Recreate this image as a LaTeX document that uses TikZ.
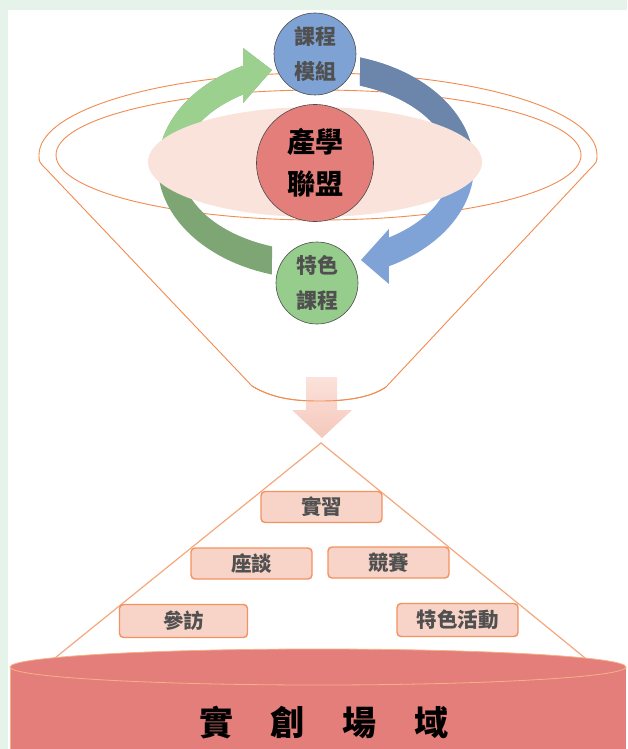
\documentclass[tikz,border=0pt]{standalone}
\usepackage{fontspec}
\newfontfamily\cjk{Noto Sans CJK TC}
\usetikzlibrary{calc}
\definecolor{bggreen}{RGB}{230,243,234}
\definecolor{funnelorange}{RGB}{240,140,80}
\definecolor{pinkell}{RGB}{249,227,219}
\definecolor{redc}{RGB}{228,126,122}
\definecolor{bluec}{RGB}{126,162,212}
\definecolor{greenc}{RGB}{151,205,140}
\definecolor{boxfill}{RGB}{248,211,199}
\definecolor{boxdraw}{RGB}{242,146,96}
\definecolor{triline}{RGB}{245,168,125}
\definecolor{cyledge}{RGB}{246,178,135}
\definecolor{txtgray}{RGB}{80,80,80}
\definecolor{greenlight}{RGB}{155,208,143}
\definecolor{greendark}{RGB}{125,166,116}
\definecolor{bluedark}{RGB}{108,134,171}
\definecolor{bluelight}{RGB}{127,163,214}
\definecolor{arrowtop}{RGB}{251,226,219}
\definecolor{arrowbot}{RGB}{245,200,187}
\newcommand\greenarrowpath{(271.9,274.5) arc[start angle=106.2, end angle=242.5, x radius=158, y radius=113] -- (243.1,48) -- (272,70) -- (243.1,103) -- (243.1,94.5) arc[start angle=237.3, end angle=109, x radius=135, y radius=85] -- cycle}
\newcommand\bluearrowpath{(360.1,57.5) arc[start angle=-73.8, end angle=62.5, x radius=158, y radius=113] -- (388.9,284) -- (361,260) -- (388.9,229) -- (388.9,237.5) arc[start angle=57.3, end angle=-71, x radius=135, y radius=85] -- cycle}
\tikzset{
  ball/.style={circle, draw=black!70, line width=0.6pt, inner sep=0pt},
  balltext/.style={align=center, text=txtgray, font=\cjk\bfseries\fontsize{21}{35}\selectfont},
  ybox/.style={draw=boxdraw, line width=1.4pt, fill=boxfill, rounded corners=4pt, minimum width=121pt, minimum height=31pt, inner sep=0pt, text=txtgray, font=\cjk\bfseries\fontsize{20.5}{22}\selectfont},
}
\begin{document}
\begin{tikzpicture}[x=1pt,y=-1pt]
\useasboundingbox (0,0) rectangle (627,749);
\fill[bggreen] (0,0) rectangle (627,749);
\fill[white] (8,10) rectangle (627,749);
% funnel
\draw[funnelorange, line width=0.9pt] (39,155) arc[start angle=180, end angle=360, x radius=279, y radius=82]
  .. controls (597,162) .. (589,170) -- (386,387) .. controls (370,398) and (345,401) .. (320,401)
  .. controls (300,401) and (275,400) .. (252,386) -- (47,170) .. controls (39,162) .. (39,155) -- cycle;
\draw[funnelorange, line width=0.9pt] (318.5,155) ellipse[x radius=262.5, y radius=65];
% circular arrows
\fill[greendark] \greenarrowpath;
\begin{scope}
  \clip (0,0) rectangle (627,166);
  \fill[greenlight] \greenarrowpath;
\end{scope}
\fill[bluelight] \bluearrowpath;
\begin{scope}
  \clip (0,0) rectangle (627,166);
  \fill[bluedark] \bluearrowpath;
\end{scope}
% pink ellipse
\fill[pinkell] (315,162) ellipse[x radius=167, y radius=55];
% circles
\node[ball, fill=redc, minimum size=117pt] (core) at (315,163) {};
\node[align=center, font=\cjk\bfseries\fontsize{28}{42}\selectfont] (coretext) at (core.center) {產學\\聯盟};
\node[ball, fill=bluec, minimum size=82pt] (module) at (315,54) {};
\node[balltext] (moduletext) at (module.center) {課程\\模組};
\node[ball, fill=greenc, minimum size=82pt] (special) at (317,283) {};
\node[balltext] (specialtext) at (special.center) {特色\\課程};
% down arrow
\shade[top color=arrowtop, bottom color=arrowbot] (306,377) -- (337,377) -- (337,410) -- (352,410) -- (322,438) -- (292,410) -- (306,410) -- cycle;
\draw[funnelorange, line width=0.9pt] (252,386) .. controls (275,400) and (300,401) .. (320,401) .. controls (345,401) and (370,398) .. (386,387);
% pyramid
\coordinate (apex) at (321,443);
\coordinate (baseL) at (50,662);
\coordinate (baseR) at (590,662);
\draw[triline, line width=1.2pt] (baseL) -- (apex) -- (baseR);
\node[ybox] (intern) at (321.5,507) {實習};
\node[ybox] (forum) at (251.5,563.5) {座談};
\node[ybox] (contest) at (388.5,562.5) {競賽};
\node[ybox, minimum width=128pt, minimum height=33pt] (visit) at (183.5,621) {參訪};
\node[ybox, minimum height=33pt] (activity) at (457.5,620) {特色活動};
% cylinder
\fill[redc] (10,667) rectangle (626,760);
\draw[cyledge, line width=0.8pt] (10,760) -- (10,667);
\draw[cyledge, line width=0.8pt, fill=redc] (318,667) ellipse[x radius=308, y radius=18];
\node[font=\cjk\bfseries\fontsize{34}{36}\selectfont, text=black] (field) at (324,723) {實\hspace{38pt}創\hspace{38pt}場\hspace{38pt}域};
\end{tikzpicture}
\end{document}
